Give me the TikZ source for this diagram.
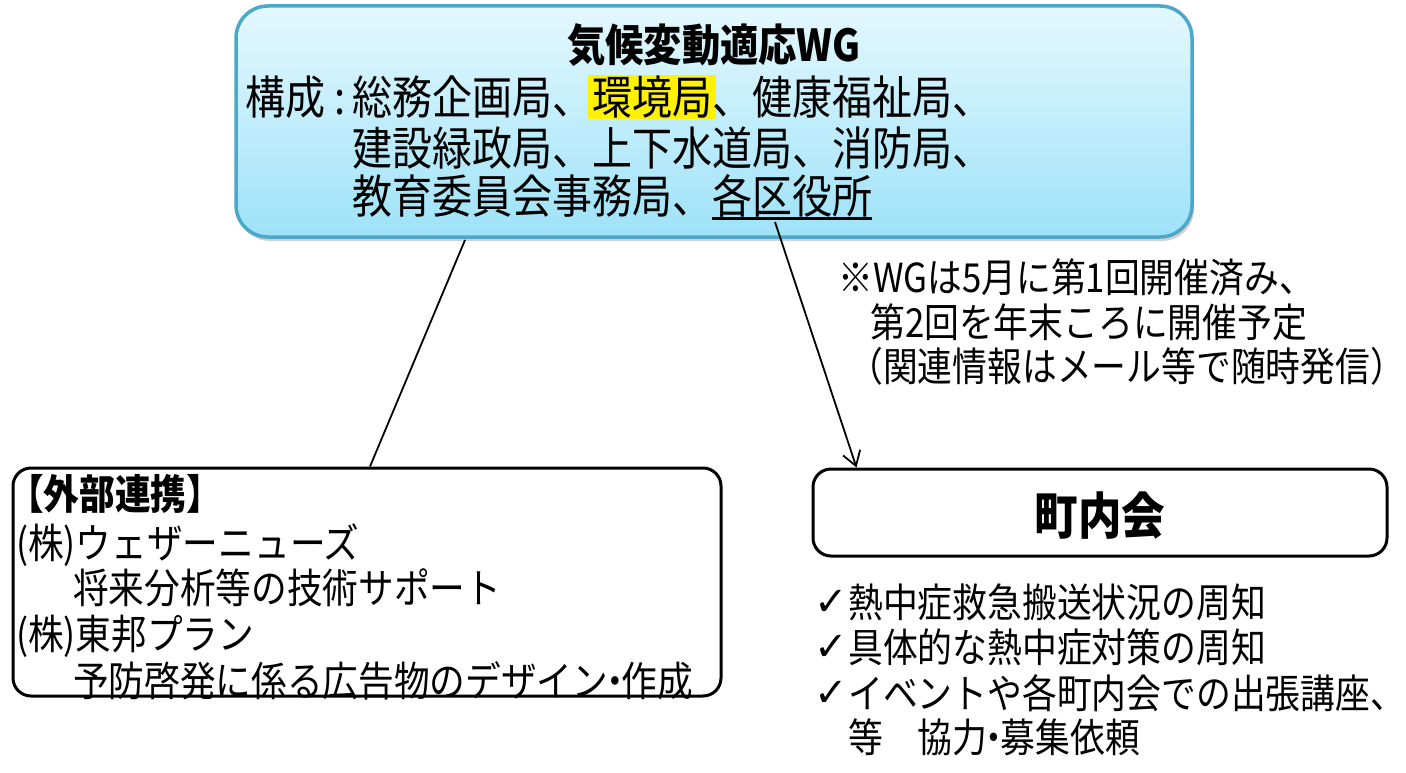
\documentclass[tikz,border=0pt]{standalone}
\usepackage{fontspec}
\usetikzlibrary{arrows.meta,shadows}
\newfontfamily\jp[FakeStretch=0.87]{Noto Sans CJK JP}
\newfontfamily\sym{DejaVu Sans}
\definecolor{wgborder}{RGB}{75,168,200}
\definecolor{wgtop}{RGB}{228,248,254}
\definecolor{wgbot}{RGB}{158,226,248}
\newcommand\thickul[1]{\setbox0\hbox{#1}\rlap{\rule[-6pt]{\wd0}{3pt}}\box0}
\newcommand\hlite[1]{{\setlength\fboxsep{0pt}\hspace{-4pt}\colorbox{yellow}{\hspace{4pt}\rule[-0.1em]{0pt}{0.96em}#1\hspace{4pt}}\hspace{-4pt}}}
\newcommand\ndot{\hspace{-0.27em}・\hspace{-0.27em}}
\begin{document}
\begin{tikzpicture}[x=1pt,y=-1pt,
  wgbox/.style={draw=wgborder, line width=3.5pt, rounded corners=32pt, top color=wgtop, bottom color=wgbot,
    drop shadow={opacity=0.3, shadow xshift=2pt, shadow yshift=-4pt, fill=black!60}},
  plainbox/.style={draw=black, line width=3pt, rounded corners=18pt, fill=white},
  txt/.style={inner sep=0pt, anchor=base west},
  topf/.style={font=\jp\fontsize{46}{50}\selectfont},
  notef/.style={font=\jp\fontsize{40}{44}\selectfont},
  extf/.style={font=\jp\fontsize{41}{46}\selectfont},
  bulf/.style={font=\jp\fontsize{40}{45}\selectfont},
  chk/.style={inner sep=0pt, anchor=base west, font=\sym\fontsize{40}{42}\selectfont},
  conn/.style={draw=black, line width=1.8pt}
]
\useasboundingbox (0,0) rectangle (1406,773);
% boxes
\node[wgbox, minimum width=956pt, minimum height=231pt, inner sep=0pt] (wg) at (714,121.5) {};
\node[plainbox, minimum width=708pt, minimum height=228pt, inner sep=0pt] (ext) at (367,582) {};
\node[plainbox, minimum width=574pt, minimum height=87pt, inner sep=0pt] (cho) at (1100,512.5) {};
% top box text
\node[inner sep=0pt, anchor=base, font=\jp\bfseries\fontsize{44}{48}\selectfont] (title) at (714,62) {気候変動適応WG};
\node[txt, topf] (kosei) at (245,114.5) {構成};
\node[txt, topf] (colon) at (334,114.5) {:};
\node[txt, topf] (l2) at (352,114.5) {総務企画局、\hlite{環境局}、健康福祉局、};
\node[txt, topf] (l3) at (352,165.5) {建設緑政局、上下水道局、消防局、};
\node[txt, topf] (l4) at (352,213.5) {教育委員会事務局、\thickul{各区役所}};
% note
\node[txt, notef] (n1) at (838,292) {※WGは5月に第1回開催済み、};
\node[txt, notef] (n2) at (870,337) {第2回を年末ころに開催予定};
\node[txt, notef] (n3) at (848,381) {（関連情報はメール等で随時発信）};
% external box text
\node[txt, font=\jp\bfseries\fontsize{41}{46}\selectfont] (e1) at (8,509) {【外部連携】};
\node[txt, extf] (e2) at (16,558) {(株)ウェザーニューズ};
\node[txt, extf] (e3) at (73,603) {将来分析等の技術サポート};
\node[txt, extf] (e4) at (16,649) {(株)東邦プラン};
\node[txt, extf] (e5) at (73,696) {予防啓発に係る広告物のデザイン\ndot 作成};
% chonaikai
\node[inner sep=0pt, anchor=base, font=\jp\bfseries\fontsize{50}{55}\selectfont] (chot) at (1100,534) {町内会};
% bullets
\node[chk] (k1) at (814,615) {✓};
\node[txt, bulf] (b1) at (848,617) {熱中症救急搬送状況の周知};
\node[chk] (k2) at (814,660) {✓};
\node[txt, bulf] (b2) at (848,662) {具体的な熱中症対策の周知};
\node[chk] (k3) at (814,706) {✓};
\node[txt, bulf] (b3) at (848,708) {イベントや各町内会での出張講座、};
\node[txt, bulf] (b4) at (848,752) {等　協力\ndot 募集依頼};
% connectors
\coordinate (c1) at (465,240);
\draw[conn] (c1) -- ([xshift=3pt]ext.north);
\coordinate (c2) at (775,222);
\draw[conn, -{Straight Barb[length=14pt,width=18pt]}] (c2) -- ([xshift=45pt]cho.north west);
\end{tikzpicture}
\end{document}
